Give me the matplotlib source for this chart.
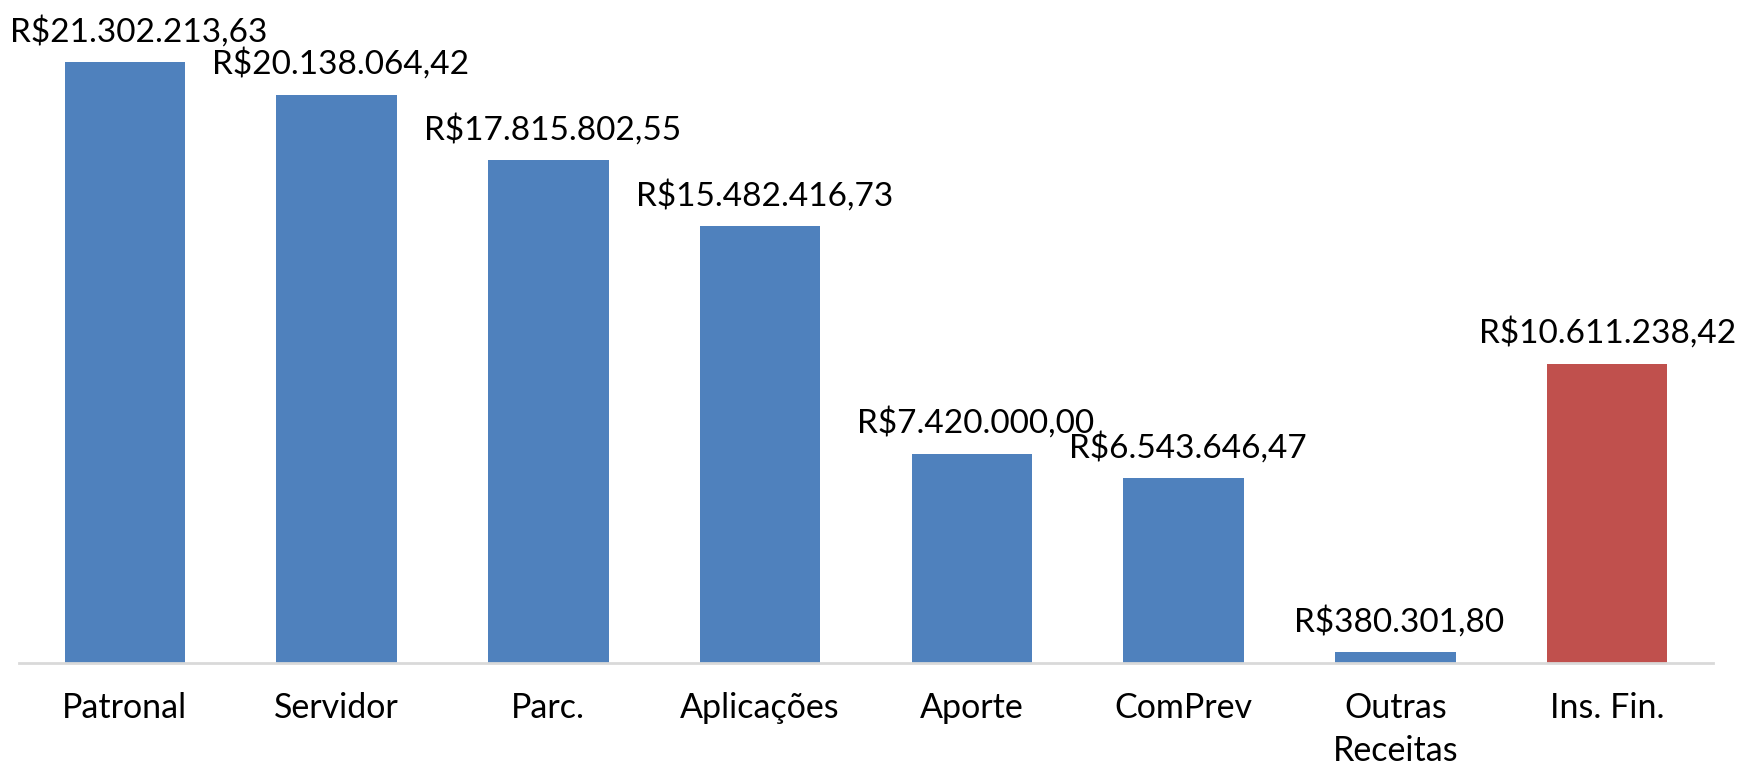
import matplotlib
matplotlib.use("Agg")
import matplotlib.pyplot as plt
from matplotlib.transforms import ScaledTranslation

categories = ["Patronal", "Servidor", "Parc.", "Aplicações", "Aporte", "ComPrev", "Outras\nReceitas", "Ins. Fin."]
values = [21302213.63, 20138064.42, 17815802.55, 15482416.73, 7420000.00, 6543646.47, 380301.80, 10611238.42]
labels = ["R$21.302.213,63", "R$20.138.064,42", "R$17.815.802,55", "R$15.482.416,73",
          "R$7.420.000,00", "R$6.543.646,47", "R$380.301,80", "R$10.611.238,42"]
colors = ["#4F81BD"] * 7 + ["#C0504D"]

plt.rcParams['font.family'] = ['Lato', 'DejaVu Sans']

W, H = 1738, 769
fig = plt.figure(figsize=(W / 100, H / 100), dpi=100)
left, right = 19 / W, 1713 / W
bottom_px, top_px = 663, 10
ax = fig.add_axes([left, 1 - bottom_px / H, right - left, (bottom_px - top_px) / H])

x = range(len(categories))
ax.bar(x, values, width=0.57, color=colors)
ax.set_xlim(-0.5, len(categories) - 0.5)
ymax = max(values) * (bottom_px - top_px) / (663 - 62)
ax.set_ylim(0, ymax)

texts = []
for xi, v, lab in zip(x, values, labels):
    t = ax.annotate(lab, (xi, v), xytext=(3, 15), textcoords="offset points",
                    ha="center", va="baseline", fontsize=24, color="black")
    texts.append(t)

ax.set_xticks(list(x))
ax.set_xticklabels(categories, fontsize=24.5, linespacing=1.4)
ax.tick_params(axis="x", length=0, pad=21)
ax.set_yticks([])
for s in ["top", "right", "left"]:
    ax.spines[s].set_visible(False)
ax.spines["bottom"].set_color("#D9D9D9")
ax.spines["bottom"].set_linewidth(2)

# keep labels inside the figure like the reference
fig.canvas.draw()
r = fig.canvas.get_renderer()
for t in texts:
    bb = t.get_window_extent(r)
    if bb.x0 < 10:
        shift = (10 - bb.x0) * 72 / fig.dpi
        t.set_position((3 + shift, 15))
    elif bb.x1 > W - 2:
        shift = (W - 2 - bb.x1) * 72 / fig.dpi
        t.set_position((3 + shift, 15))

fig.savefig("out.png", dpi=100)
